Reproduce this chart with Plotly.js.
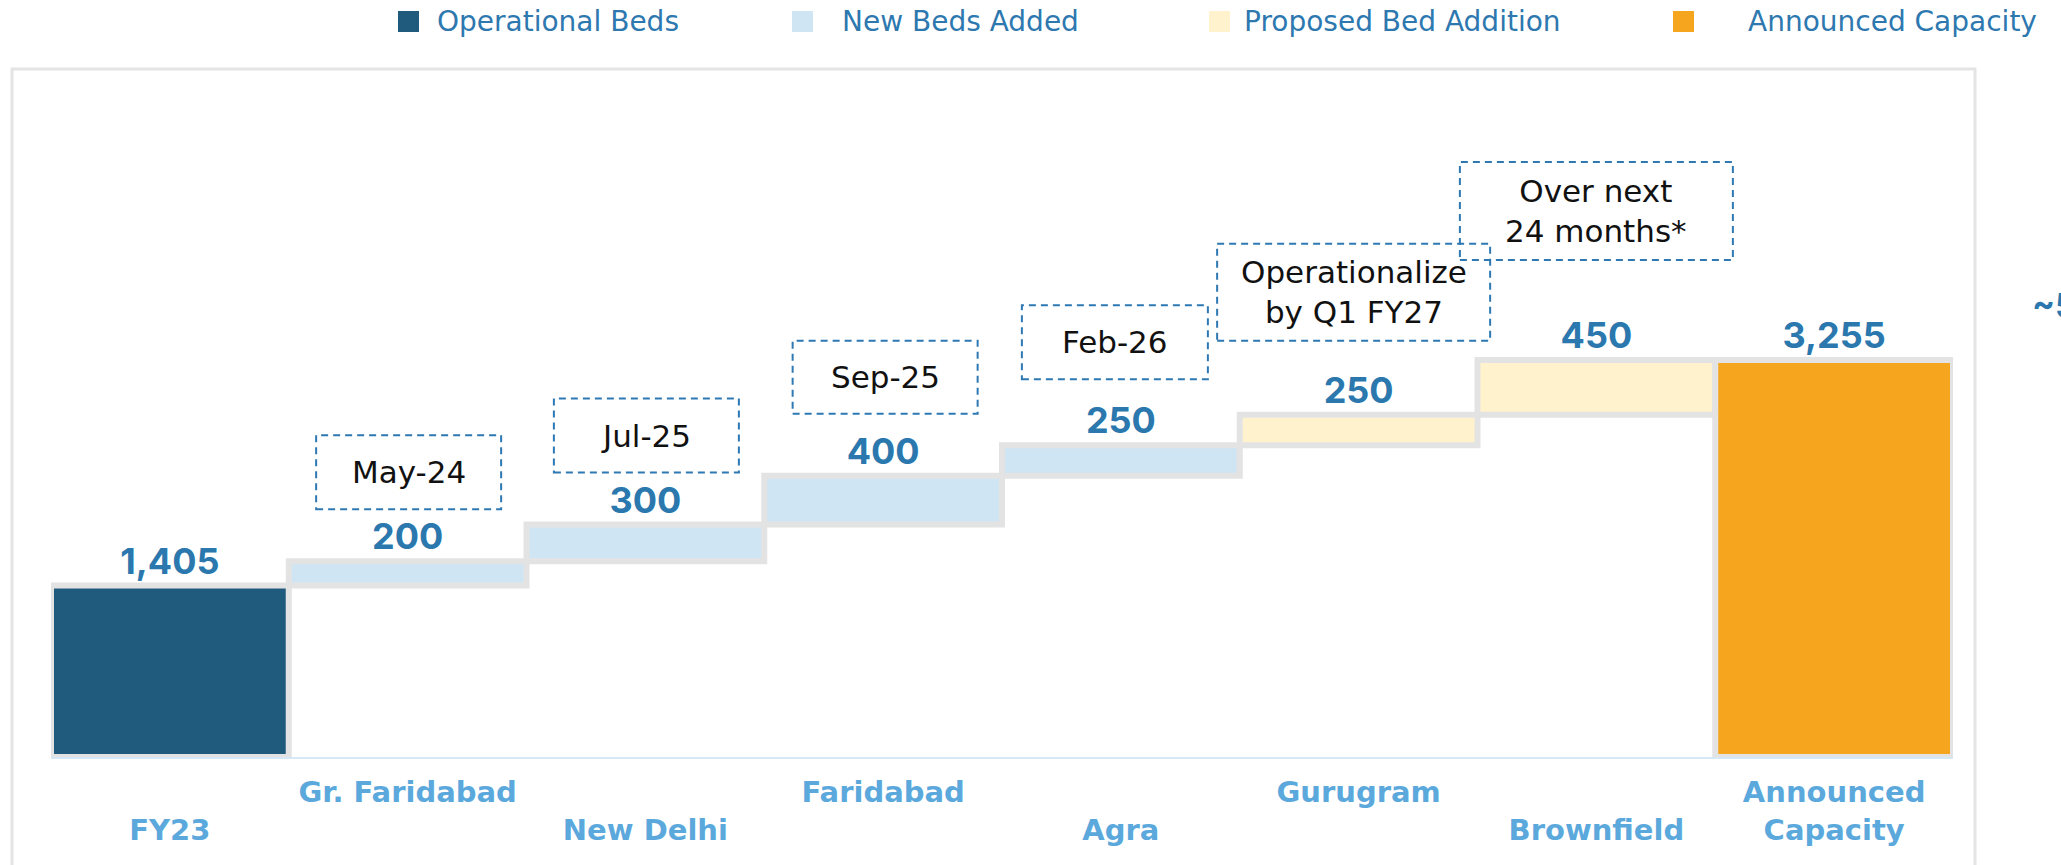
<!DOCTYPE html>
<html>
<head>
<meta charset="utf-8">
<script src="https://cdn.plot.ly/plotly-3.0.1.min.js"></script>
<style>
  html, body { margin: 0; padding: 0; background: #ffffff; }
  #chart { width: 2061px; height: 865px; }
</style>
</head>
<body>
<div id="chart"></div>
<script>
// ---------------- DATA ----------------
const categories = ["FY23", "Gr. Faridabad", "New Delhi", "Faridabad", "Agra", "Gurugram", "Brownfield", "Announced Capacity"];
const tickLabels = ["<br>FY23", "Gr. Faridabad", "<br>New Delhi", "Faridabad", "<br>Agra", "Gurugram", "<br>Brownfield", "Announced<br>Capacity"];

const seriesNames = ["Operational Beds", "New Beds Added", "Proposed Bed Addition", "Announced Capacity"];

const operationalCategories = ["FY23"];
const operationalBeds = [1405];

const newBedsCategories = ["Gr. Faridabad", "New Delhi", "Faridabad", "Agra"];
const newBedsAdded = [200, 300, 400, 250];

const proposedCategories = ["Gurugram", "Brownfield"];
const proposedBedAddition = [250, 450];

const announcedCategories = ["Announced Capacity"];
const announcedCapacity = [3255];

const timelineCategories = ["Gr. Faridabad", "New Delhi", "Faridabad", "Agra", "Gurugram", "Brownfield"];
const timelineLabels = ["May-24", "Jul-25", "Sep-25", "Feb-26", "Operationalize<br>by Q1 FY27", "Over next<br>24 months*"];

// ---------------- STYLE / LAYOUT ----------------
const W = 2061, H = 865;
const M = { l: 51, r: 108, t: 60, b: 108 };
const PW = W - M.l - M.r, PH = H - M.t - M.b;
const Y_MAX = 5713;
const FONT_NUM = "Inter, 'Open Sans', sans-serif";
const FONT_TXT = "'DejaVu Sans', 'Open Sans', sans-serif";
const colors = ["#205B7E", "#CFE5F3", "#FFF2CD", "#F6A61E"];
const borderColor = "#E3E3E3";
const valueColor = "#2A78AE";
const catColor = "#5BA9DC";
const boxColor = "#2E78B3";

// timeline box geometry: offset above bar top (px), width, height, x shift
const boxGeom = [
  { dy: 52, w: 185, h: 74, dx: 1 },
  { dy: 52, w: 185, h: 74, dx: 1 },
  { dy: 62, w: 185, h: 73, dx: 2 },
  { dy: 66, w: 186, h: 74, dx: -6 },
  { dy: 74, w: 273, h: 97, dx: -5 },
  { dy: 100, w: 273, h: 98, dx: 0 }
];
// legend geometry (page pixels)
const legendGeom = [
  { sq: 398, tx: 435 },
  { sq: 792, tx: 840 },
  { sq: 1209, tx: 1242 },
  { sq: 1673, tx: 1746 }
];

const px2x = p => (p - M.l) / PW;
const py2y = p => (H - M.b - p) / PH;
const idx = c => categories.indexOf(c);

// ---------------- BASES (waterfall) ----------------
let running = 0;
const opBase = operationalBeds.map(v => { running = v; return 0; });
const newBase = newBedsAdded.map(v => { const b = running; running += v; return b; });
const propBase = proposedBedAddition.map(v => { const b = running; running += v; return b; });
const annBase = announcedCapacity.map(() => 0);

const tops = {};
operationalCategories.forEach((c, i) => tops[c] = opBase[i] + operationalBeds[i]);
newBedsCategories.forEach((c, i) => tops[c] = newBase[i] + newBedsAdded[i]);
proposedCategories.forEach((c, i) => tops[c] = propBase[i] + proposedBedAddition[i]);
announcedCategories.forEach((c, i) => tops[c] = annBase[i] + announcedCapacity[i]);

function barTrace(name, x, y, base, color) {
  return {
    type: "bar", name: name, x: x, y: y, base: base,
    width: 1,
    marker: { color: color, line: { color: borderColor, width: 6 } },
    texttemplate: "%{y:,}",
    textposition: "outside",
    textfont: { family: FONT_NUM, size: 36, color: valueColor, weight: 700 },
    cliponaxis: false,
    hoverinfo: "skip",
    showlegend: false
  };
}

const data = [
  barTrace(seriesNames[0], operationalCategories, operationalBeds, opBase, colors[0]),
  barTrace(seriesNames[1], newBedsCategories, newBedsAdded, newBase, colors[1]),
  barTrace(seriesNames[2], proposedCategories, proposedBedAddition, propBase, colors[2]),
  barTrace(seriesNames[3], announcedCategories, announcedCapacity, annBase, colors[3])
];

const shapes = [];
const annotations = [];

// outer frame
shapes.push({
  type: "rect", xref: "paper", yref: "paper", layer: "below",
  x0: px2x(12), x1: px2x(1975), y0: py2y(69), y1: py2y(900),
  line: { color: "#E4E4E4", width: 3 }, fillcolor: "rgba(0,0,0,0)"
});

// timeline dashed boxes + text
timelineCategories.forEach((c, i) => {
  const g = boxGeom[i];
  shapes.push({
    type: "rect", xref: "x", yref: "y",
    xsizemode: "pixel", ysizemode: "pixel",
    xanchor: idx(c), yanchor: tops[c],
    x0: g.dx - g.w / 2, x1: g.dx + g.w / 2,
    y0: g.dy, y1: g.dy + g.h,
    line: { color: boxColor, width: 2, dash: "7px,5px" },
    fillcolor: "rgba(0,0,0,0)"
  });
  annotations.push({
    x: idx(c), y: tops[c], xref: "x", yref: "y",
    xshift: g.dx, yshift: g.dy + g.h / 2,
    xanchor: "center", yanchor: "middle",
    text: timelineLabels[i], showarrow: false,
    font: { family: FONT_TXT, size: 31, color: "#111111" }
  });
});

// legend (drawn manually to match the reference's spacing)
seriesNames.forEach((n, i) => {
  const g = legendGeom[i];
  shapes.push({
    type: "rect", xref: "paper", yref: "paper",
    x0: px2x(g.sq), x1: px2x(g.sq + 21), y0: py2y(11), y1: py2y(32),
    line: { width: 0 }, fillcolor: colors[i]
  });
  annotations.push({
    xref: "paper", yref: "paper", x: px2x(g.tx), y: py2y(21),
    xanchor: "left", yanchor: "middle", showarrow: false,
    text: n, font: { family: FONT_TXT, size: 28, color: "#2E78B0" }
  });
});

// cut-off text at the right edge of the reference
annotations.push({
  xref: "paper", yref: "paper", x: px2x(2030), y: py2y(305),
  xanchor: "left", yanchor: "middle", showarrow: false,
  text: "~5", font: { family: FONT_NUM, size: 34, color: valueColor, weight: 700 }
});

const layout = {
  width: W, height: H,
  margin: M,
  paper_bgcolor: "#ffffff", plot_bgcolor: "rgba(0,0,0,0)",
  barmode: "overlay", bargap: 0,
  showlegend: false,
  xaxis: {
    type: "category", categoryorder: "array", categoryarray: categories,
    range: [-0.5, categories.length - 0.5],
    tickmode: "array", tickvals: categories, ticktext: tickLabels,
    tickfont: { family: FONT_TXT, size: 29, color: catColor, weight: 700 },
    ticklabelstandoff: 8,
    showgrid: false, zeroline: false,
    showline: true, linecolor: "#D6E8F5", linewidth: 2,
    layer: "below traces", ticks: "", fixedrange: true
  },
  yaxis: {
    range: [0, Y_MAX], visible: false, showgrid: false, zeroline: false, fixedrange: true
  },
  shapes: shapes,
  annotations: annotations
};

Plotly.newPlot("chart", data, layout, { displayModeBar: false, staticPlot: true });
</script>
</body>
</html>
